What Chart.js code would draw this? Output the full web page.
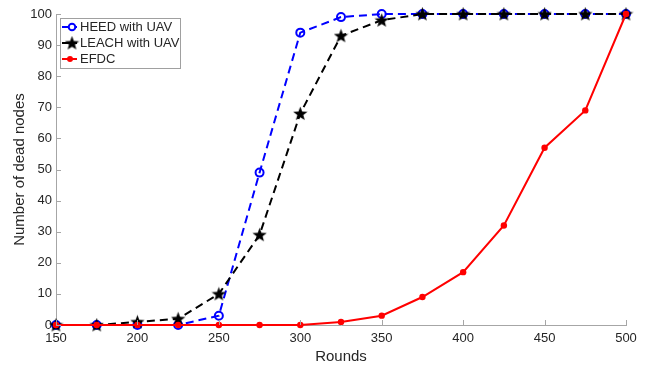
<!DOCTYPE html>
<html>
<head>
<meta charset="utf-8">
<script src="https://cdn.jsdelivr.net/npm/chart.js@4"></script>
<style>
  html, body { margin: 0; padding: 0; background: #fff; }
  #wrap { width: 651px; height: 369px; }
</style>
</head>
<body>
<div id="wrap"><canvas id="myChart" width="651" height="369"></canvas></div>
<script>
const rounds = [150, 175, 200, 225, 250, 275, 300, 325, 350, 375, 400, 425, 450, 475, 500];
const heedUav = [0, 0, 0, 0, 3, 49, 94, 99, 100, 100, 100, 100, 100, 100, 100];
const leachUav = [0, 0, 1, 2, 10, 29, 68, 93, 98, 100, 100, 100, 100, 100, 100];
const efdc = [0, 0, 0, 0, 0, 0, 0, 1, 3, 9, 17, 32, 57, 69, 100];
const xTicks = [150, 200, 250, 300, 350, 400, 450, 500];
const yTicks = [0, 10, 20, 30, 40, 50, 60, 70, 80, 90, 100];

const FONT = "'Liberation Sans', Arial, sans-serif";

// filled five point star for the LEACH markers
function makeStar(size) {
    const c = document.createElement('canvas');
    c.width = size; c.height = size;
    const g = c.getContext('2d');
    const cx = size / 2, cy = size / 2 + 0.5, R = size / 2, r = R * 0.42;
    g.beginPath();
    for (let i = 0; i < 10; i++) {
        const rad = i % 2 ? r : R;
        const a = -Math.PI / 2 + i * Math.PI / 5;
        g.lineTo(cx + rad * Math.cos(a), cy + rad * Math.sin(a));
    }
    g.closePath();
    g.fillStyle = '#000';
    g.fill();
    return c;
}
const starImg = makeStar(15);

const toXY = (arr) => arr.map((v, i) => ({ x: rounds[i], y: v }));

// inward ticks + legend box, matlab style
const matlabBits = {
    id: 'matlabBits',
    afterDraw(chart) {
        const ctx = chart.ctx;
        const xs = chart.scales.x, ys = chart.scales.y;
        const a = chart.chartArea;
        ctx.save();
        ctx.strokeStyle = '#a6a6a6';
        ctx.lineWidth = 1;
        ctx.beginPath();
        xTicks.forEach(t => {
            const px = Math.round(xs.getPixelForValue(t)) + 0.5;
            ctx.moveTo(px, a.bottom); ctx.lineTo(px, a.bottom - 5);
        });
        yTicks.forEach(t => {
            const py = Math.round(ys.getPixelForValue(t)) + 0.5;
            ctx.moveTo(a.left, py); ctx.lineTo(a.left + 5, py);
        });
        ctx.stroke();

        // legend
        const lx = a.left + 4, ly = a.top + 4, lw = 120, lh = 50;
        ctx.fillStyle = '#fff';
        ctx.fillRect(lx, ly, lw, lh);
        ctx.strokeStyle = '#a0a0a0';
        ctx.strokeRect(lx + 0.5, ly + 0.5, lw, lh);
        const rows = [
            { label: 'HEED with UAV', color: '#0000ff', mk: 'o' },
            { label: 'LEACH with UAV', color: '#000000', mk: 's' },
            { label: 'EFDC', color: '#ff0000', mk: 'd' }
        ];
        ctx.font = '13px ' + FONT;
        ctx.textBaseline = 'middle';
        rows.forEach((r, i) => {
            const cy = ly + 9 + i * 16;
            ctx.strokeStyle = r.color;
            ctx.lineWidth = 2;
            ctx.beginPath();
            ctx.moveTo(lx + 2, cy); ctx.lineTo(lx + 17, cy);
            ctx.stroke();
            if (r.mk === 'o') {
                ctx.beginPath(); ctx.arc(lx + 12, cy, 3.3, 0, Math.PI * 2);
                ctx.fillStyle = '#fff'; ctx.fill(); ctx.stroke();
            } else if (r.mk === 's') {
                ctx.drawImage(starImg, lx + 12 - 7.5, cy - 7.5);
            } else {
                ctx.beginPath(); ctx.arc(lx + 10, cy, 3, 0, Math.PI * 2);
                ctx.fillStyle = r.color; ctx.fill();
            }
            ctx.fillStyle = '#262626';
            ctx.fillText(r.label, lx + 20, cy + 0.5);
        });
        ctx.restore();
    }
};

const ctx = document.getElementById('myChart').getContext('2d');
const chart = new Chart(ctx, {
    type: 'line',
    data: {
        datasets: [
            {
                label: 'HEED with UAV',
                data: toXY(heedUav),
                borderColor: '#0000ff',
                borderWidth: 2,
                borderDash: [8, 5],
                pointStyle: 'circle',
                pointRadius: 4,
                pointBorderWidth: 2,
                pointBorderColor: '#0000ff',
                pointBackgroundColor: 'rgba(255,255,255,0)',
                tension: 0,
                clip: false,
                order: 3
            },
            {
                label: 'LEACH with UAV',
                data: toXY(leachUav),
                borderColor: '#000000',
                borderWidth: 2,
                borderDash: [8, 5],
                pointStyle: starImg,
                pointRadius: 7,
                tension: 0,
                clip: false,
                order: 2
            },
            {
                label: 'EFDC',
                data: toXY(efdc),
                borderColor: '#ff0000',
                borderWidth: 2,
                pointStyle: 'circle',
                pointRadius: 3.2,
                pointBorderWidth: 0,
                pointBackgroundColor: '#ff0000',
                tension: 0,
                clip: false,
                order: 1
            }
        ]
    },
    options: {
        responsive: false,
        animation: false,
        layout: { padding: { top: 14, right: 25, left: 0, bottom: 0 } },
        plugins: { legend: { display: false }, tooltip: { enabled: false } },
        scales: {
            x: {
                type: 'linear',
                min: 150, max: 500,
                afterBuildTicks: (s) => { s.ticks = xTicks.map(v => ({ value: v })); },
                afterFit: (s) => { s.height = 44; },
                grid: { display: false, drawTicks: false },
                border: { display: true, color: '#a6a6a6', width: 1 },
                ticks: { color: '#262626', font: { family: FONT, size: 13 }, padding: 6, maxRotation: 0 },
                title: { display: true, text: 'Rounds', color: '#262626', font: { family: FONT, size: 15 }, padding: { top: 0, bottom: 3 } }
            },
            y: {
                min: 0, max: 100,
                afterBuildTicks: (s) => { s.ticks = yTicks.map(v => ({ value: v })); },
                afterFit: (s) => { s.width = 56; },
                grid: { display: false, drawTicks: false },
                border: { display: true, color: '#a6a6a6', width: 1 },
                ticks: { color: '#262626', font: { family: FONT, size: 13 }, padding: 4 },
                title: { display: true, text: 'Number of dead nodes', color: '#262626', font: { family: FONT, size: 15 }, padding: { top: 11, bottom: 0 } }
            }
        }
    },
    plugins: [matlabBits]
});
</script>
</body>
</html>
